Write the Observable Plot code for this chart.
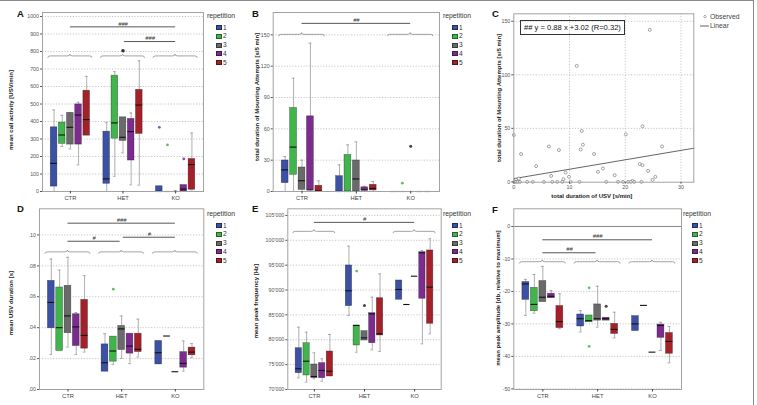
<!DOCTYPE html>
<html>
<head>
<meta charset="utf-8">
<script src="https://cdn.jsdelivr.net/npm/d3@7"></script>
<script src="https://cdn.jsdelivr.net/npm/@observablehq/plot@0.6"></script>
<style>
  body { margin: 0; background: #fff; }
  #fig { position: relative; width: 757px; height: 405px; overflow: hidden;
         font-family: "Liberation Sans", Arial, sans-serif; }
  #fig svg { position: absolute; }
  .border { position: absolute; left: 0; top: 0; width: 754px; height: 420px;
            border-top: 1.5px solid #8a8a8a; border-right: 1.5px solid #8a8a8a; box-sizing: border-box; }
  .letter { position: absolute; font-weight: bold; font-size: 9.5px; line-height: 1; color: #111; }
  .leg-title { position: absolute; font-size: 6.8px; line-height: 1; color: #333; }
  .leg-sw { position: absolute; width: 6px; height: 5px; box-sizing: border-box; border: 0.6px solid rgba(0,0,0,0.45); }
  .leg-lab { position: absolute; font-size: 6.6px; line-height: 1; color: #333; }
  .fitbox { position: absolute; border: 1px solid #333; font-size: 7.6px; line-height: 1; color: #111;
            padding: 2.5px 3px; white-space: nowrap; }
  .c-leg { position: absolute; font-size: 6.8px; line-height: 1; color: #444; }
</style>
</head>
<body>
<div id="fig"><div class="border"></div></div>
<script>
// ---- categories -------------------------------------------------------
const groups = ["CTR", "HET", "KO"];
const repetitions = [1, 2, 3, 4, 5];
const repColors = ["#3c51a6", "#3fb54c", "#6a6a6a", "#7b2c8e", "#a4212a"];

// ---- box summaries: [genotype, repetition, lower whisker, Q1, median, Q3, upper whisker]
const callActivity = [
  ["CTR", 1, 0, 28, 161, 367, 466], ["CTR", 2, 257, 272, 323, 394, 435], ["CTR", 3, 243, 268, 367, 449, 452],
  ["CTR", 4, 152, 268, 437, 498, 510], ["CTR", 5, 319, 319, 411, 576, 658],
  ["HET", 1, 0, 44, 72, 342, 395], ["HET", 2, 87, 302, 392, 662, 685], ["HET", 3, 221, 289, 310, 424, 424],
  ["HET", 4, 38, 177, 342, 415, 449], ["HET", 5, 36, 329, 494, 581, 747],
  ["KO", 1, 0, 0, 0, 30, 30], ["KO", 2, 0, 0, 0, 0, 0], ["KO", 3, 0, 0, 0, 0, 5],
  ["KO", 4, 0, 0, 14, 37, 37], ["KO", 5, 9, 10, 154, 186, 334]
];
const callActivityOutliers = [["KO", 1, 367, "o"], ["KO", 2, 266, "o"], ["KO", 4, 186, "o"]];
const callActivityTests = [["CTR", "KO", "###"], ["HET", "KO", "###"]];

const mountingTime = [
  ["CTR", 1, 0, 8, 20.7, 29.7, 33.5], ["CTR", 2, 0, 16, 42.5, 80, 108.5], ["CTR", 3, 0, 1.5, 10.3, 23, 30],
  ["CTR", 4, 0, 1.6, 1.6, 72, 142], ["CTR", 5, 0, 0, 0.5, 5.5, 10.2],
  ["HET", 1, 0, 0, 0, 14.7, 25.5], ["HET", 2, 0, 0, 0, 35, 44.7], ["HET", 3, 0, 0, 12, 29.7, 47.5],
  ["HET", 4, 0, 1, 1.5, 4, 5], ["HET", 5, 0, 1, 3, 6.4, 9.6],
  ["KO", 1, 0, 0, 0, 0, 0], ["KO", 2, 0, 0, 0, 0, 0], ["KO", 3, 0, 0, 0, 0, 0],
  ["KO", 4, 0, 0, 0, 0, 0], ["KO", 5, 0, 0, 0, 0, 0]
];
const mountingOutliers = [["KO", 2, 8, "o"], ["KO", 3, 43.4, "*"]];
const mountingTests = [["CTR", "KO", "##"]];

const usvDuration = [
  ["CTR", 1, 0.0227, 0.0396, 0.0563, 0.0703, 0.0844], ["CTR", 2, 0.0249, 0.0249, 0.0400, 0.0660, 0.0773],
  ["CTR", 3, 0.0275, 0.0364, 0.0476, 0.0671, 0.0855], ["CTR", 4, 0.0227, 0.0281, 0.0405, 0.0487, 0.0498],
  ["CTR", 5, 0.0242, 0.0264, 0.0350, 0.0580, 0.0736],
  ["HET", 1, 0.0115, 0.0115, 0.0173, 0.0292, 0.0361], ["HET", 2, 0.0162, 0.0180, 0.0249, 0.0342, 0.0342],
  ["HET", 3, 0.0201, 0.0255, 0.0392, 0.0411, 0.0476], ["HET", 4, 0.0167, 0.0232, 0.0281, 0.0361, 0.0361],
  ["HET", 5, 0.0210, 0.0242, 0.0260, 0.0361, 0.0455],
  ["KO", 1, 0.0162, 0.0162, 0.0238, 0.0314, 0.0314], ["KO", 2, 0.0346, 0.0346, 0.0346, 0.0346, 0.0346],
  ["KO", 3, 0.0115, 0.0115, 0.0115, 0.0115, 0.0115], ["KO", 4, 0.0119, 0.0141, 0.0169, 0.0242, 0.0314],
  ["KO", 5, 0.0206, 0.0221, 0.0242, 0.0271, 0.0297]
];
const usvDurationOutliers = [["HET", 2, 0.0649, "o"]];
const usvDurationTests = [["CTR", "KO", "###"], ["CTR", "HET", "#"], ["HET", "KO", "#"]];

const peakFrequency = [
  ["CTR", 1, 72340, 73280, 74160, 78310, 82530], ["CTR", 2, 71470, 72820, 75690, 79310, 81520],
  ["CTR", 3, 72150, 72280, 72610, 75030, 77370], ["CTR", 4, 71670, 72280, 73820, 75300, 76170],
  ["CTR", 5, 72610, 72610, 73680, 77640, 81060],
  ["HET", 1, 84880, 86760, 89850, 94940, 98820], ["HET", 2, 77500, 78850, 82870, 82870, 82870],
  ["HET", 3, 79850, 79850, 80390, 81730, 81730], ["HET", 4, 77970, 79310, 85210, 85350, 88560],
  ["HET", 5, 77640, 80860, 81190, 88360, 93250],
  ["KO", 1, 88040, 88040, 90110, 91920, 91920], ["KO", 2, 87090, 87090, 87090, 87090, 87090],
  ["KO", 3, 92780, 92780, 92780, 92780, 92780], ["KO", 4, 79180, 88240, 97480, 97610, 97950],
  ["KO", 5, 81190, 83210, 90580, 97950, 100300]
];
const peakFrequencyOutliers = [["HET", 2, 93800, "o"], ["HET", 3, 86890, "*"]];
const peakFrequencyTests = [["CTR", "KO", "#"]];

const peakAmplitude = [
  ["CTR", 1, -27.4, -22.6, -17.7, -17.1, -16.3], ["CTR", 2, -26.7, -26.1, -24.0, -18.9, -14.8],
  ["CTR", 3, -23.3, -23.3, -21.8, -16.8, -12.3], ["CTR", 4, -22.1, -22.1, -21.5, -20.7, -19.7],
  ["CTR", 5, -31.5, -31.3, -29.3, -24.5, -20.7],
  ["HET", 1, -32.5, -30.8, -28.4, -27.1, -25.9], ["HET", 2, -29.5, -29.5, -29.0, -27.4, -27.4],
  ["HET", 3, -31.0, -29.0, -28.4, -24.0, -18.4], ["HET", 4, -29.0, -29.0, -28.4, -28.1, -28.1],
  ["HET", 5, -34.3, -33.1, -31.7, -30.0, -26.4],
  ["KO", 1, -32.2, -32.2, -30.0, -27.6, -27.6], ["KO", 2, -24.3, -24.3, -24.3, -24.3, -24.3],
  ["KO", 3, -38.7, -38.7, -38.7, -38.7, -38.7], ["KO", 4, -38.2, -34.3, -30.5, -30.2, -29.5],
  ["KO", 5, -42.0, -39.2, -35.4, -32.8, -30.8]
];
const peakAmplitudeOutliers = [["HET", 2, -18.9, "o"], ["HET", 2, -36.9, "o"], ["HET", 4, -24.6, "*"]];
const peakAmplitudeTests = [["CTR", "KO", "###"], ["CTR", "HET", "##"]];

// ---- correlation: USV rate vs. mounting time, one pair per animal and session
const usvRate = [0, 1.3, 4.0, 6.3, 8.1, 11.3, 12.0, 12.2, 12.4, 14.4, 20.1, 23.1, 24.4, 26.6,
  6.7, 9.3, 9.9, 8.9, 15.1, 16.0, 18.1, 22.6, 23.1, 24.1, 25.4, 24.9, 21.3, 0.4, 0.9,
  0.1, 0.4, 0.7, 1.1, 2.4, 3.4, 5.4, 6.9, 7.8, 8.7, 10.2, 11.8, 16.6, 18.7, 19.6, 20.5, 21.0, 21.6, 22.9];
const mountTime = [43.75, 26, 14.7, 33, 29.7, 108.4, 30.3, 47.5, 34.7, 26, 44.4, 51.9, 142, 33,
  5.6, 8.75, 4.7, 2.5, 9.4, 12.5, 6.25, 16.6, 15.6, 10.3, 4.7, 1.9, 0.9, 1.9, 3.1,
  0, 0, 0, 0, 0, 0, 0, 0, 0, 0, 0, 0, 0, 0, 0, 0, 0, 0, 0];
const fitSlope = 0.88, fitIntercept = 3.02, fitR = 0.32;

// ---- tick labels
const callTicks = d3.range(0, 1001, 100);
const mountTicks = [0, 30, 60, 90, 120, 150];
const corrXTicks = [0, 10, 20, 30];
const corrYTicks = [0, 50, 100, 150];
const durationTicks = [0, 0.02, 0.04, 0.06, 0.08, 0.10];
const frequencyTicks = d3.range(70000, 105001, 5000);
const amplitudeTicks = [0, -10, -20, -30, -40, -50];

// ---- drawing ----------------------------------------------------------
const FONT = '"Liberation Sans", Arial, sans-serif';
const STEP = 0.155, HALF = 0.063, CAP = 0.027;
const xDomain = [-0.53, 2.53];
const fig = document.getElementById("fig");
const pos = (g, r) => groups.indexOf(g) + (r - 3) * STEP;
const gridStyle = {stroke: "#b8b8b8", strokeWidth: 0.8, strokeDasharray: "1.2,1.6"};

function braces(names, level) {
  return function (...args) {
    const s = args.find(a => a && typeof a.x === "function" && typeof a.y === "function");
    const g = d3.create("svg:g").attr("fill", "none").attr("stroke", "#8c8c8c").attr("stroke-width", 0.8);
    for (const name of names) {
      const i = groups.indexOf(name);
      const x0 = s.x(i - 0.42), x1 = s.x(i + 0.42), xm = s.x(i), y = s.y(level), r = 1.8;
      g.append("path").attr("d",
        `M${x0},${y + r}Q${x0},${y} ${x0 + 2.5},${y}L${xm - 2.5},${y}Q${xm},${y} ${xm},${y - r}` +
        `Q${xm},${y} ${xm + 2.5},${y}L${x1 - 2.5},${y}Q${x1},${y} ${x1},${y + r}`);
    }
    return g.node();
  };
}

function place(svg, left, top) {
  svg.style.left = left + "px";
  svg.style.top = top + "px";
  fig.appendChild(svg);
}

function boxPanel(cfg) {
  const B = cfg.boxes.map(([group, rep, lo, q1, med, q3, hi]) => ({x: pos(group, rep), rep, lo, q1, med, q3, hi}));
  const hiW = B.filter(d => d.hi > d.q3), loW = B.filter(d => d.lo < d.q1);
  const outliers = cfg.outliers.map(([group, rep, value, kind]) => ({x: pos(group, rep), rep, value, kind}));
  const tests = cfg.tests.map(([a, b, label], k) => {
    const ia = groups.indexOf(a), ib = groups.indexOf(b);
    return {x1: ia + (ia === 1 ? 0.03 : 0), x2: ib - (ib === 1 ? 0.03 : 0), y: cfg.testLevels[k], label};
  });
  const [mt, mr, mb, ml] = cfg.margin;
  const svg = Plot.plot({
    width: cfg.width, height: cfg.height,
    marginTop: mt, marginRight: mr, marginBottom: mb, marginLeft: ml,
    style: {background: "transparent", overflow: "visible", fontFamily: FONT},
    x: {domain: xDomain},
    y: {domain: cfg.yDomain},
    color: {type: "ordinal", domain: repetitions, range: repColors},
    marks: [
      Plot.ruleY(cfg.yTicks.filter(t => t !== cfg.yTicks[0] && t !== cfg.solidAt), gridStyle),
      cfg.solidAt !== undefined ? Plot.ruleY([cfg.solidAt], {stroke: "#777", strokeWidth: 0.9}) : null,
      braces(cfg.braces, cfg.braceLevel),
      Plot.ruleY(tests, {x1: "x1", x2: "x2", y: "y", stroke: "#444", strokeWidth: 0.9}),
      Plot.text(tests, {x: d => (d.x1 + d.x2) / 2, y: "y", text: "label", dy: -3.2, fontSize: 5.8,
        fontStyle: "italic", fill: "#333"}),
      cfg.star ? Plot.dot([cfg.star], {x: d => groups.indexOf(d.group), y: "level", r: 1.8, fill: "#333"}) : null,
      Plot.ruleX(hiW, {x: "x", y1: "q3", y2: "hi", stroke: "#9a9a9a", strokeWidth: 0.8}),
      Plot.ruleX(loW, {x: "x", y1: "lo", y2: "q1", stroke: "#9a9a9a", strokeWidth: 0.8}),
      Plot.ruleY(hiW, {y: "hi", x1: d => d.x - CAP, x2: d => d.x + CAP, stroke: "#9a9a9a", strokeWidth: 0.8}),
      Plot.ruleY(loW, {y: "lo", x1: d => d.x - CAP, x2: d => d.x + CAP, stroke: "#9a9a9a", strokeWidth: 0.8}),
      Plot.rect(B.filter(d => d.q3 > d.q1), {x1: d => d.x - HALF, x2: d => d.x + HALF, y1: "q1", y2: "q3",
        fill: "rep", stroke: "#111", strokeOpacity: 0.5, strokeWidth: 0.6}),
      Plot.ruleY(B, {y: "med", x1: d => d.x - HALF, x2: d => d.x + HALF, stroke: "#111", strokeWidth: 1.1}),
      Plot.dot(outliers.filter(d => d.kind === "o"), {x: "x", y: "value", r: 1.4, fill: "rep", fillOpacity: 0.85}),
      Plot.dot(outliers.filter(d => d.kind === "*"), {x: "x", y: "value", r: 1.5, fill: "#444"}),
      Plot.frame({stroke: "#a3a3a3", strokeWidth: 1}),
      Plot.axisY({ticks: cfg.yTicks, tickFormat: cfg.yFormat, tickSize: 2, tickPadding: 1.5,
        fontSize: 5.3, color: "#555", label: null}),
      Plot.axisX({ticks: [0, 1, 2], tickFormat: i => groups[i], tickSize: 2.5, tickPadding: 1.5,
        fontSize: 5.8, color: "#444", label: null}),
      Plot.text([cfg.yTitle], {text: d => d, frameAnchor: "left", rotate: -90, textAnchor: "middle",
        dx: cfg.titleDx, dy: cfg.titleDy, fontSize: 6, fontWeight: "bold", fill: "#222"})
    ]
  });
  place(svg, cfg.left, cfg.top);
  legend(cfg.legendX, cfg.legendSw, cfg.top + (cfg.top ? 15 : 17));
}

function legend(titleX, swX, titleY) {
  const t = document.createElement("div");
  t.className = "leg-title"; t.textContent = "repetition";
  t.style.left = titleX + "px"; t.style.top = (titleY - 3.6) + "px";
  fig.appendChild(t);
  repetitions.forEach((r, i) => {
    const cy = titleY + 10.5 + i * 8.75;
    const sw = document.createElement("div");
    sw.className = "leg-sw"; sw.style.background = repColors[i];
    sw.style.left = swX + "px"; sw.style.top = (cy - 2.5) + "px";
    const lab = document.createElement("div");
    lab.className = "leg-lab"; lab.textContent = r;
    lab.style.left = (swX + 7) + "px"; lab.style.top = (cy - 2.8) + "px";
    fig.appendChild(sw); fig.appendChild(lab);
  });
}

function letter(ch, x, capTop) {
  const d = document.createElement("div");
  d.className = "letter"; d.textContent = ch;
  d.style.left = x + "px"; d.style.top = (capTop - 1.3) + "px";
  fig.appendChild(d);
}

const plain = d => String(d);

boxPanel({left: 0, top: 0, width: 250, height: 205, margin: [12, 47, 14, 42],
  boxes: callActivity, outliers: callActivityOutliers, tests: callActivityTests, testLevels: [941, 857],
  braces: groups, braceLevel: 772, star: {group: "HET", level: 804},
  yDomain: [0, 1023], yTicks: callTicks, yFormat: plain,
  yTitle: "mean call activity [USV/min]", titleDx: -31, titleDy: 8, legendX: 207, legendSw: 216});

boxPanel({left: 250, top: 0, width: 240, height: 205, margin: [12, 51, 14, 22.7],
  boxes: mountingTime, outliers: mountingOutliers, tests: mountingTests, testLevels: [161],
  braces: ["CTR", "KO"], braceLevel: 150,
  yDomain: [0, 171.4], yTicks: mountTicks, yFormat: plain,
  yTitle: "total duration of Mounting Attempts [s/5 min]", titleDx: -16, titleDy: -5, legendX: 443, legendSw: 452});

boxPanel({left: 0, top: 200, width: 250, height: 205, margin: [8.3, 46.7, 16, 39],
  boxes: usvDuration, outliers: usvDurationOutliers, tests: usvDurationTests, testLevels: [0.1076, 0.0959, 0.0985],
  braces: groups, braceLevel: 0.0887,
  yDomain: [0, 0.1169], yTicks: durationTicks, yFormat: d => d3.format(".2f")(d).replace(/^0/, ""),
  yTitle: "mean USV duration [s]", titleDx: -28, titleDy: 4, legendX: 207, legendSw: 216});

boxPanel({left: 250, top: 200, width: 240, height: 205, margin: [8.3, 49.3, 16, 37.3],
  boxes: peakFrequency, outliers: peakFrequencyOutliers, tests: peakFrequencyTests, testLevels: [103600],
  braces: ["CTR", "KO"], braceLevel: 101700,
  yDomain: [70000, 106330], yTicks: frequencyTicks, yFormat: d => d3.format(",")(d).replace(",", "'"),
  yTitle: "mean peak frequency [Hz]", titleDx: -32, titleDy: 2, legendX: 443, legendSw: 452});

boxPanel({left: 490, top: 200, width: 267, height: 205, margin: [8.3, 76, 16, 23.3],
  boxes: peakAmplitude, outliers: peakAmplitudeOutliers, tests: peakAmplitudeTests, testLevels: [-4.1, -8.1],
  braces: groups, braceLevel: -11.0, solidAt: 0,
  yDomain: [-50.2, 5.44], yTicks: amplitudeTicks, yFormat: plain,
  yTitle: "mean peak amplitude [db, relative to maximum]", titleDx: -16, titleDy: -1, legendX: 683, legendSw: 692});

// ---- panel C: scatter with linear fit
{
  const pts = usvRate.map((x, i) => ({x, y: mountTime[i]}));
  const xMax = 32.3;
  const fit = [0, xMax].map(x => ({x, y: fitSlope * x + fitIntercept}));
  const svg = Plot.plot({
    width: 267, height: 205, marginTop: 13.3, marginRight: 63.7, marginBottom: 23.3, marginLeft: 23.3,
    style: {background: "transparent", overflow: "visible", fontFamily: FONT},
    x: {domain: [0, xMax]},
    y: {domain: [-0.3, 157]},
    marks: [
      Plot.ruleX(corrXTicks.filter(t => t > 0), gridStyle),
      Plot.ruleY(corrYTicks.filter(t => t > 0), gridStyle),
      Plot.line(fit, {x: "x", y: "y", stroke: "#555", strokeWidth: 0.9}),
      Plot.dot(pts, {x: "x", y: "y", r: 1.5, stroke: "#6a6a6a", strokeWidth: 0.6, fill: "white"}),
      Plot.frame({stroke: "#a3a3a3", strokeWidth: 1}),
      Plot.axisY({ticks: corrYTicks, tickSize: 2, tickPadding: 1.5, fontSize: 5.3, color: "#555", label: null}),
      Plot.axisX({ticks: corrXTicks, tickSize: 2, tickPadding: 1.5, fontSize: 5.3, color: "#555", label: null}),
      Plot.text(["total duration of Mounting Attempts [s/5 min]"], {text: d => d, frameAnchor: "left",
        rotate: -90, textAnchor: "middle", dx: -15, fontSize: 6, fontWeight: "bold", fill: "#222"}),
      Plot.text(["total duration of USV [s/min]"], {text: d => d, frameAnchor: "bottom", dx: -12, dy: 16,
        fontSize: 6, fontWeight: "bold", fill: "#222"})
    ]
  });
  place(svg, 490, 0);

  const box = document.createElement("div");
  box.className = "fitbox";
  box.textContent = `## y = ${fitSlope} x +${fitIntercept} (R=${fitR})`;
  box.style.left = "520px"; box.style.top = "20px";
  fig.appendChild(box);

  const obs = document.createElement("div");
  obs.className = "c-leg"; obs.textContent = "Observed";
  obs.style.left = "710px"; obs.style.top = "13.5px";
  const lin = document.createElement("div");
  lin.className = "c-leg"; lin.textContent = "Linear";
  lin.style.left = "710px"; lin.style.top = "22.5px";
  fig.appendChild(obs); fig.appendChild(lin);
  const sym = d3.create("svg").attr("width", 12).attr("height", 16)
    .style("left", "699px").style("top", "12px");
  sym.append("circle").attr("cx", 6).attr("cy", 4.6).attr("r", 1.2)
    .attr("fill", "white").attr("stroke", "#777").attr("stroke-width", 0.6);
  sym.append("line").attr("x1", 1).attr("x2", 10).attr("y1", 14).attr("y2", 14)
    .attr("stroke", "#555").attr("stroke-width", 0.9);
  fig.appendChild(sym.node());
}

letter("A", 17, 10);
letter("B", 252, 10);
letter("C", 492, 10);
letter("D", 17, 205);
letter("E", 252, 205);
letter("F", 492, 206.5);
</script>
</body>
</html>
